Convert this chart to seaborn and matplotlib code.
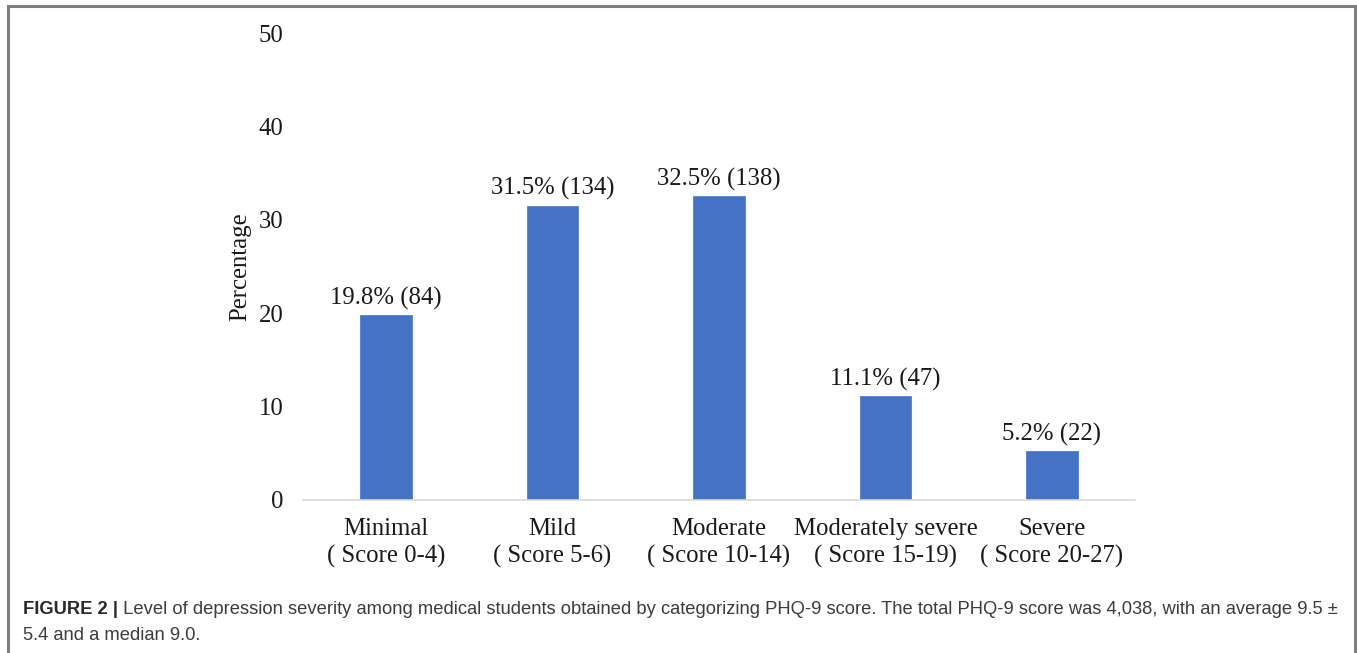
import matplotlib
matplotlib.use("Agg")
import matplotlib.pyplot as plt
from matplotlib.patches import Rectangle
import seaborn as sns
import pandas as pd

# Depression severity categories (PHQ-9)
categories = ["Minimal\n( Score 0-4)", "Mild\n( Score 5-6)", "Moderate\n( Score 10-14)",
              "Moderately severe\n( Score 15-19)", "Severe\n( Score 20-27)"]
percentages = [19.8, 31.5, 32.5, 11.1, 5.2]
counts = [84, 134, 138, 47, 22]
y_ticks = [0, 10, 20, 30, 40, 50]

caption_bold = "FIGURE 2 |"
caption_line1 = ("Level of depression severity among medical students obtained by categorizing "
                 "PHQ-9 score. The total PHQ-9 score was 4,038, with an average 9.5 \u00b1")
caption_line2 = "5.4 and a median 9.0."

sns.set_theme(style="white")
plt.rcParams["font.family"] = ["Liberation Serif", "DejaVu Serif"]

W, H = 1357, 653
FS = 17.8
fig = plt.figure(figsize=(W / 100, H / 100), dpi=100)
fig.patch.set_facecolor("white")

ax = fig.add_axes([303 / W, 1 - 500 / H, (1135 - 303) / W, (500 - 33) / H])

df = pd.DataFrame({"category": categories, "pct": percentages, "n": counts})
sns.barplot(data=df, x="category", y="pct", color="#4472C4", width=0.31,
            saturation=1, ax=ax, edgecolor="#4f7fd6", linewidth=0.6)

ax.set_ylim(0, 50)
ax.set_xlim(-0.5, len(categories) - 0.5)
ax.set_yticks(y_ticks)
ax.set_yticklabels([str(t) for t in y_ticks], fontsize=FS, color="#1a1a1a")
ax.set_xticks(range(len(categories)))
ax.set_xticklabels(categories, fontsize=FS, color="#1a1a1a", linespacing=1.3)
ax.set_xticks([i - 0.5 for i in range(len(categories) + 1)], minor=True)
ax.tick_params(axis="x", which="major", length=0, pad=13)
ax.tick_params(axis="x", which="minor", length=8, width=1.2, color="#d9d9d9", direction="out")
ax.tick_params(axis="y", length=0, pad=14)
ax.set_xlabel("")
ax.set_ylabel("Percentage", fontsize=FS, color="#1a1a1a", labelpad=5)

for side in ["top", "right", "left"]:
    ax.spines[side].set_visible(False)
ax.spines["bottom"].set_color("#d9d9d9")
ax.spines["bottom"].set_linewidth(1.2)

# Value labels above bars
for bar, p, n in zip(ax.patches, percentages, counts):
    ax.annotate(f"{p}% ({n})", (bar.get_x() + bar.get_width() / 2, bar.get_height()),
                xytext=(0, 4), textcoords="offset points", ha="center", va="bottom",
                fontsize=FS, color="#1a1a1a")

# Frame around the figure panel
fig.add_artist(Rectangle((8 / W, -0.05), (1355 - 8) / W, 1 - 6 / H + 0.05,
                         transform=fig.transFigure, fill=False,
                         edgecolor="#7f7f7f", linewidth=2.2))

# Caption
cap_font = ["Liberation Sans", "DejaVu Sans"]
x0 = 23 / W
y1 = 1 - 614 / H
y2 = 1 - 640 / H
t_bold = fig.text(x0, y1, caption_bold, fontsize=14, fontweight="bold",
                  family=cap_font, color="#2a2a2a", va="baseline")
t_rest = fig.text(0, y1, " " + caption_line1, fontsize=14,
                  family=cap_font, color="#3c3c3c", va="baseline")
t_2 = fig.text(x0, y2, caption_line2, fontsize=14,
               family=cap_font, color="#3c3c3c", va="baseline")

# Fit the first caption line to the available width
fig.canvas.draw()
renderer = fig.canvas.get_renderer()
target = 1335 - 23
for _ in range(3):
    wb = t_bold.get_window_extent(renderer).width
    wr = t_rest.get_window_extent(renderer).width
    scale = target / (wb + wr)
    new = t_rest.get_fontsize() * scale
    for t in (t_bold, t_rest, t_2):
        t.set_fontsize(new)
    fig.canvas.draw()
wb = t_bold.get_window_extent(renderer).width
t_rest.set_x(x0 + wb / W)

fig.savefig("out.png", dpi=100, facecolor="white")
